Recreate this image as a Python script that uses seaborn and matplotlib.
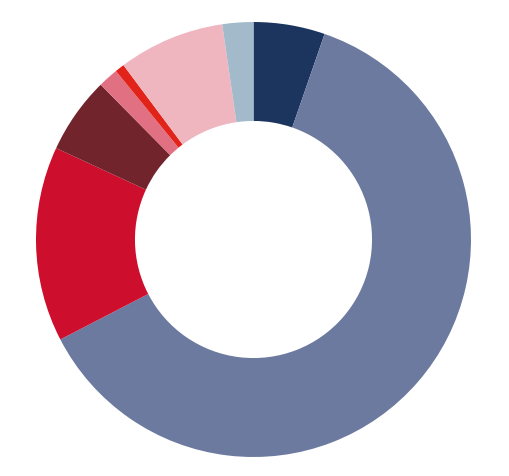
import matplotlib
matplotlib.use("Agg")
import matplotlib.pyplot as plt
import seaborn as sns

# Datos (porcentaje aproximado de cada segmento, sentido horario desde arriba)
segments = ["A", "B", "C", "D", "E", "F", "G", "H"]
shares = [5.3, 62.1, 14.5, 5.7, 1.5, 0.7, 7.9, 2.3]
colors = ["#1C355E", "#6B7A9E", "#CE0E2D", "#72242D",
          "#E07082", "#E2231A", "#F0B6C0", "#A3BACB"]

sns.set_theme(style="white")
palette = sns.color_palette(colors)

fig = plt.figure(figsize=(5.1, 4.76), dpi=100)
# ejes cuadrados centrados en el donut
ax = fig.add_axes([36 / 510, 19 / 476, 435 / 510, 435 / 476])

ax.pie(shares, colors=palette, startangle=90, counterclock=False,
       radius=1.0, wedgeprops=dict(width=0.455, linewidth=0))
ax.set_xlim(-1, 1)
ax.set_ylim(-1, 1)
ax.set_aspect("equal")
ax.axis("off")

fig.savefig("out.png", dpi=100, facecolor="white")
